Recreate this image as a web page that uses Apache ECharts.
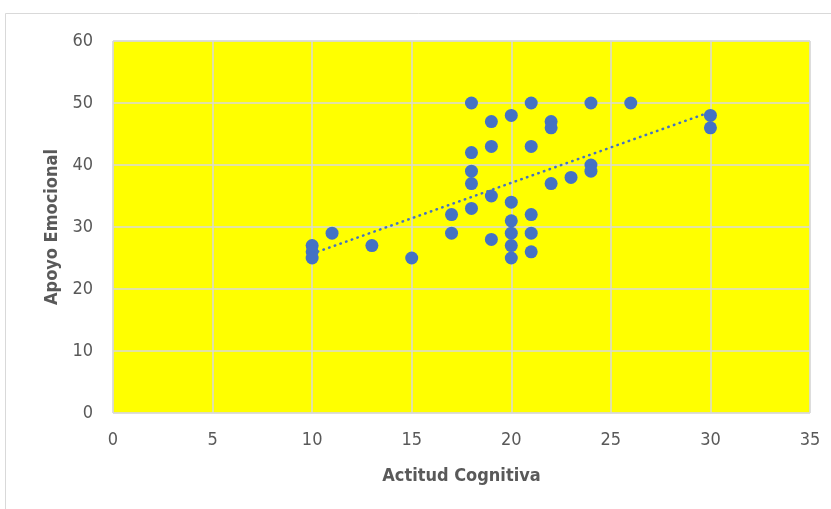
<!DOCTYPE html>
<html>
<head>
<meta charset="utf-8">
<script src="https://cdn.jsdelivr.net/npm/echarts@6/dist/echarts.min.js"></script>
<style>html,body{margin:0;padding:0;background:#fff;}#c{width:831px;height:509px;}</style>
</head>
<body>
<div id="c"></div>
<script>
const xValues = [10,10,10,11,13,15,17,17,18,18,18,18,18,19,19,19,19,20,20,20,20,20,20,21,21,21,21,21,22,22,22,23,24,24,24,26,30,30];
const yValues = [27,26,25,29,27,25,32,29,50,42,39,37,33,47,43,35,28,48,34,31,29,27,25,50,43,32,29,26,47,46,37,38,50,40,39,50,48,46];
const xTicks = [0,5,10,15,20,25,30,35];
const yTicks = [0,10,20,30,40,50,60];
const xTitle = 'Actitud Cognitiva';
const yTitle = 'Apoyo Emocional';

const points = xValues.map((x,i)=>[x,yValues[i]]);
// linear least-squares trendline from the data
const n = xValues.length;
const mx = xValues.reduce((a,b)=>a+b,0)/n;
const my = yValues.reduce((a,b)=>a+b,0)/n;
let sxy=0,sxx=0;
for(let i=0;i<n;i++){sxy+=(xValues[i]-mx)*(yValues[i]-my);sxx+=(xValues[i]-mx)**2;}
const slope=sxy/sxx, icpt=my-slope*mx;
const xmin=Math.min(...xValues), xmax=Math.max(...xValues);
const trend=[[xmin,icpt+slope*xmin],[xmax,icpt+slope*xmax]];

const font = "'Liberation Sans Narrow', 'DejaVu Sans Condensed', 'Liberation Sans', sans-serif";
const chart = echarts.init(document.getElementById('c'), null, {renderer:'canvas'});
chart.setOption({
  backgroundColor:'#ffffff',
  animation:false,
  graphic:[{type:'rect',shape:{x:5.5,y:13.5,width:900,height:600},style:{fill:'none',stroke:'#d9d9d9',lineWidth:1}, z:-1}],
  grid:{left:113,right:21,top:41,bottom:96,show:true,backgroundColor:'#ffff00',borderColor:'#d9d9d9',borderWidth:1},
  xAxis:{type:'value',min:xTicks[0],max:xTicks[xTicks.length-1],interval:5,
    name:xTitle,nameLocation:'middle',nameGap:54,
    nameTextStyle:{fontFamily:font,fontSize:18,fontWeight:'bold',color:'#595959'},
    axisLine:{show:false},axisTick:{show:false},
    axisLabel:{fontFamily:font,fontSize:18,color:'#595959',margin:18},
    splitLine:{lineStyle:{color:'#d9d9d9',width:1.5}}},
  yAxis:{type:'value',min:yTicks[0],max:yTicks[yTicks.length-1],interval:10,
    name:yTitle,nameLocation:'middle',nameGap:52,
    nameTextStyle:{fontFamily:font,fontSize:18,fontWeight:'bold',color:'#595959'},
    axisLine:{show:false},axisTick:{show:false},
    axisLabel:{fontFamily:font,fontSize:18,color:'#595959',margin:20},
    splitLine:{lineStyle:{color:'#d9d9d9',width:1.5}}},
  series:[
    {type:'line',data:trend,symbol:'none',z:3,
      lineStyle:{color:'#4472c4',width:2.5,type:[0.5,5.5],cap:'round'}},
    {type:'scatter',data:points,symbolSize:13,z:2,itemStyle:{color:'#4472c4',opacity:1}}
  ]
});
</script>
</body>
</html>
